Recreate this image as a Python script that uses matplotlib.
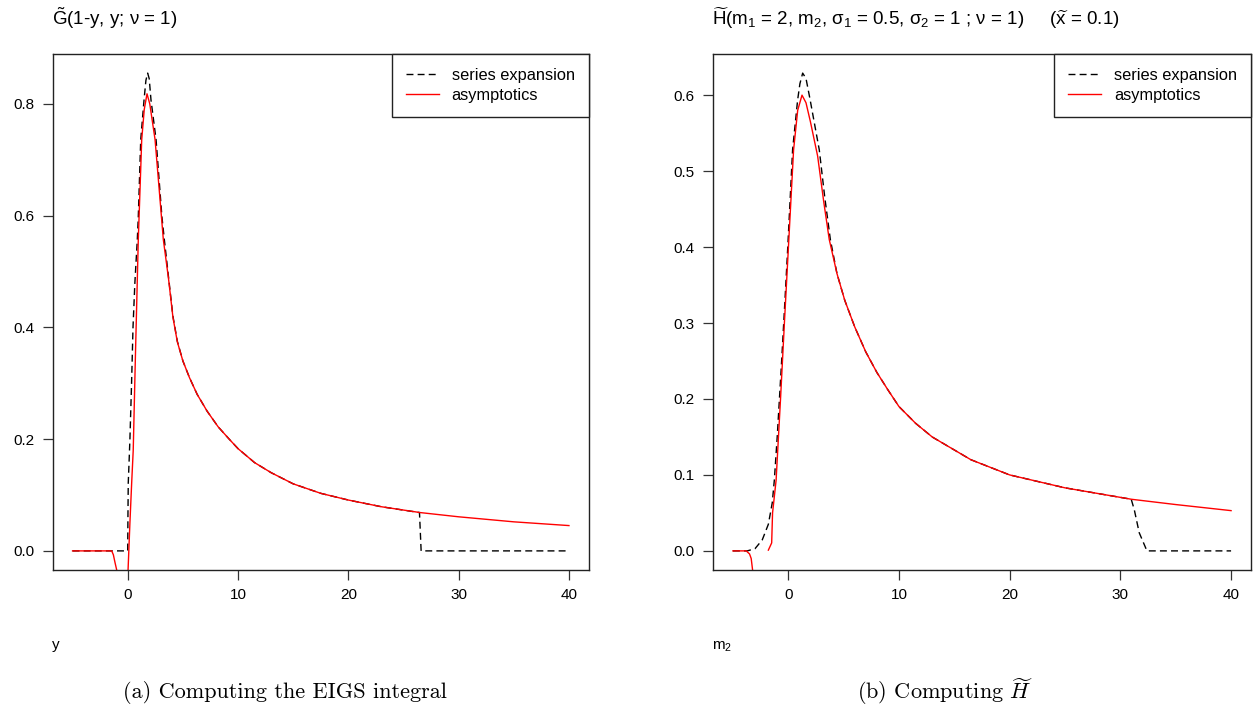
import numpy as np
import matplotlib
matplotlib.use("Agg")
import matplotlib.pyplot as plt

plt.rcParams['font.family'] = ['Liberation Sans', 'DejaVu Sans']
plt.rcParams['mathtext.fontset'] = 'custom'
plt.rcParams['mathtext.rm'] = 'Liberation Sans'
plt.rcParams['mathtext.it'] = 'Liberation Sans:italic'
plt.rcParams['mathtext.default'] = 'regular'

# ---------------- panel (a): G~(1-y, y; nu = 1) ----------------
g_series_y = [-5, -1, 0.0, 0.02, 0.05, 0.12, 0.2, 0.35, 0.48, 0.65, 0.87, 0.96, 1.18, 1.48,
              1.65, 1.81, 1.95, 2.11, 2.57, 3.1, 3.32, 3.7, 4.1, 4.5, 5.0, 5.6, 6.3, 7.2,
              8.2, 9.2, 10, 11.5, 13, 15, 17.5, 20, 23, 26.45, 26.6, 30, 35, 40]
g_series_val = [0, 0, 0.0, 0.06, 0.122, 0.157, 0.2, 0.3, 0.4, 0.48, 0.557, 0.598, 0.736, 0.807,
                0.842, 0.855, 0.845, 0.807, 0.736, 0.598, 0.557, 0.49, 0.42, 0.375, 0.34, 0.31, 0.28, 0.25,
                0.222, 0.2, 0.183, 0.158, 0.14, 0.12, 0.103, 0.091, 0.079, 0.0686, 0.0, 0.0, 0.0, 0.0]

g_asym_lo_y = [-5, -1.45, -1.3, -1.15, -1.0, -0.9]
g_asym_lo_val = [0, 0, -0.007, -0.021, -0.034, -0.06]
g_asym_hi_y = [-0.02, 0.2, 0.36, 0.5, 0.7, 0.96, 1.27, 1.5, 1.75, 2.0, 2.48, 3.23, 3.7, 4.1,
               4.5, 5.0, 5.6, 6.3, 7.2, 8.2, 9.2, 10, 11.5, 13, 15, 17.5, 20, 23, 26.5, 30, 35, 40]
g_asym_hi_val = [-0.06, 0.05, 0.122, 0.18, 0.35, 0.557, 0.736, 0.79, 0.818, 0.8, 0.736, 0.557, 0.487, 0.418,
                 0.374, 0.34, 0.31, 0.28, 0.25, 0.222, 0.2, 0.183, 0.158, 0.14, 0.12, 0.103, 0.091, 0.079,
                 0.0686, 0.061, 0.052, 0.0453]

# ---------------- panel (b): H~(m2) ----------------
h_series_m2 = [-5, -3.7, -3.0, -2.35, -1.8, -1.45, -1.26, -1.0, -0.6, -0.3, -0.06, 0.39, 0.84,
               1.05, 1.3, 1.6, 1.96, 2.8, 3.3, 3.8, 4.4, 5.1, 6.0, 7.0, 8.0, 9.0, 10, 11.5, 13,
               16.5, 20, 25, 30.98, 31.26, 31.7, 32.4, 35, 40]
h_series_val = [0, 0, 0.003, 0.0145, 0.035, 0.063, 0.093, 0.15, 0.25, 0.33, 0.396, 0.528, 0.593,
                0.615, 0.629, 0.622, 0.595, 0.528, 0.465, 0.41, 0.365, 0.33, 0.295, 0.262, 0.235, 0.212,
                0.19, 0.168, 0.15, 0.12, 0.1, 0.083, 0.068, 0.054, 0.024, 0.0, 0.0, 0.0]

h_asym_lo_m2 = [-5, -3.8, -3.5, -3.35, -3.1]
h_asym_lo_val = [0, 0, -0.004, -0.01, -0.04]
h_asym_hi_m2 = [-1.8, -1.5, -1.42, -1.1, -0.7, -0.35, 0.0, 0.48, 0.85, 1.24, 1.6, 2.0, 2.65,
                3.2, 3.7, 4.4, 5.1, 6.0, 7.0, 8.0, 9.0, 10, 11.5, 13, 16.5, 20, 25, 30.98, 35, 40]
h_asym_hi_val = [0.001, 0.0105, 0.05, 0.093, 0.2, 0.3, 0.396, 0.528, 0.58, 0.6, 0.59, 0.565, 0.52,
                 0.46, 0.41, 0.365, 0.33, 0.295, 0.262, 0.235, 0.212, 0.19, 0.168, 0.15, 0.12, 0.1,
                 0.083, 0.068, 0.061, 0.053]

g_yticks = [0.0, 0.2, 0.4, 0.6, 0.8]
h_yticks = [0.0, 0.1, 0.2, 0.3, 0.4, 0.5, 0.6]
xticks = [0, 10, 20, 30, 40]

fig = plt.figure(figsize=(12.54, 7.15), dpi=100)
W, H = 1254, 715
axL = fig.add_axes([52.7 / W, 1 - 570 / H, (588.8 - 52.7) / W, (570 - 54) / H])
axR = fig.add_axes([713 / W, 1 - 570 / H, (1251 - 713) / W, (570 - 54) / H])


def r_lim(vals):
    lo, hi = min(vals), max(vals)
    pad = 0.04 * (hi - lo)
    return lo - pad, hi + pad


def draw(ax, sx, sv, ax_lo, av_lo, ax_hi, av_hi, yticks):
    ax.plot(sx, sv, color='black', lw=1.0, dashes=(5, 3), label='series expansion')
    ax.plot(ax_lo, av_lo, color='#ff0000', lw=1.0, label='asymptotics')
    ax.plot(ax_hi, av_hi, color='#ff0000', lw=1.0)
    ax.set_xlim(*r_lim(sx))
    ax.set_ylim(*r_lim(sv))
    ax.set_xticks(xticks)
    ax.set_yticks(yticks)
    ax.set_yticklabels([f"{t:.1f}" for t in yticks])
    ax.tick_params(direction='out', length=7, width=0.9, labelsize=11, pad=6, color='#333333')
    for s in ax.spines.values():
        s.set_linewidth(1.0)
        s.set_color('#222222')
    leg = ax.legend(loc='upper right', borderaxespad=0, fancybox=False, framealpha=1,
                    edgecolor='#222222', fontsize=11.8, handlelength=2.0, handletextpad=0.8,
                    borderpad=0.85, labelspacing=0.3)
    leg.get_frame().set_linewidth(1.0)


draw(axL, g_series_y, g_series_val, g_asym_lo_y, g_asym_lo_val, g_asym_hi_y, g_asym_hi_val, g_yticks)
draw(axR, h_series_m2, h_series_val, h_asym_lo_m2, h_asym_lo_val, h_asym_hi_m2, h_asym_hi_val, h_yticks)

# titles (left aligned above the axes)
fig.text(52 / W, 1 - 18 / H, r'$\tilde{\mathrm{G}}$(1-y, y; ν = 1)', fontsize=13.5,
         ha='left', va='center')
fig.text(712 / W, 1 - 18 / H,
         r'$\widetilde{\mathrm{H}}$(m$_1$ = 2, m$_2$, σ$_1$ = 0.5, σ$_2$ = 1 ; ν = 1)     '
         r'($\widetilde{\mathrm{x}}$ = 0.1)', fontsize=13.5, ha='left', va='center')

# axis labels (bottom left, R-style)
fig.text(52 / W, 1 - 645 / H, 'y', fontsize=11, ha='left', va='center')
fig.text(712 / W, 1 - 647 / H, r'm$_2$', fontsize=11, ha='left', va='center')

# captions
fig.text(285 / W, 1 - 692 / H, '(a) Computing the EIGS integral', fontsize=16,
         family='cmr10', ha='center', va='center')
fig.text(945 / W, 1 - 692 / H, r'(b) Computing $\widetilde{\mathit{H}}$', fontsize=16,
         family='cmr10', math_fontfamily='cm', ha='center', va='center')

fig.savefig('out.png', dpi=100)
